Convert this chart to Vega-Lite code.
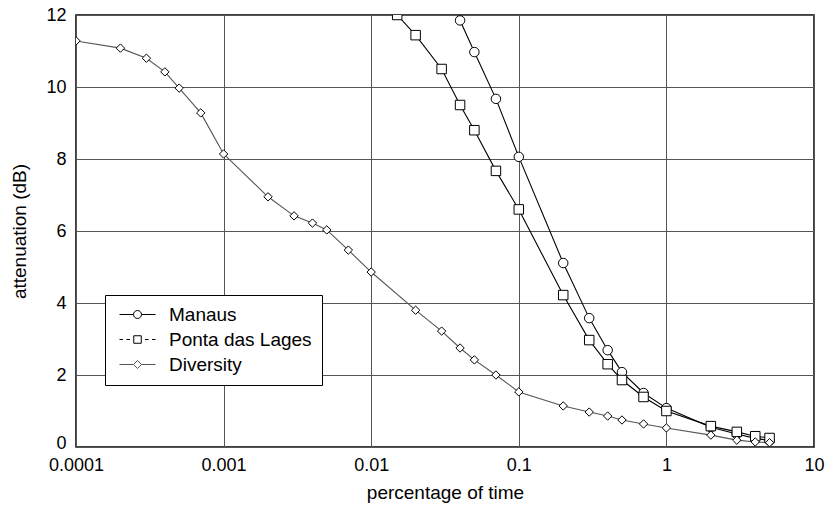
{
  "$schema": "https://vega.github.io/schema/vega-lite/v6.json",
  "width": 738,
  "height": 432,
  "autosize": {"type": "none"},
  "padding": {"left": 76, "top": 15, "right": 12, "bottom": 59},
  "background": "white",
  "config": {
    "view": {"stroke": "black", "strokeWidth": 1.5},
    "font": "Liberation Sans",
    "axis": {
      "domain": false,
      "ticks": false,
      "grid": true,
      "gridColor": "#555",
      "gridWidth": 1,
      "labelFont": "Liberation Sans",
      "labelFontSize": 18,
      "labelColor": "black",
      "labelFlush": false,
      "titleFont": "Liberation Sans",
      "titleFontSize": 19,
      "titleFontWeight": "normal",
      "titleColor": "black"
    }
  },
  "data": {
    "values": [
      {"series": "Manaus", "x": 0.04, "y": 11.85},
      {"series": "Manaus", "x": 0.05, "y": 10.97},
      {"series": "Manaus", "x": 0.07, "y": 9.67},
      {"series": "Manaus", "x": 0.1, "y": 8.06},
      {"series": "Manaus", "x": 0.2, "y": 5.11},
      {"series": "Manaus", "x": 0.3, "y": 3.58},
      {"series": "Manaus", "x": 0.4, "y": 2.69},
      {"series": "Manaus", "x": 0.5, "y": 2.08},
      {"series": "Manaus", "x": 0.7, "y": 1.5},
      {"series": "Manaus", "x": 1, "y": 1.08},
      {"series": "Manaus", "x": 2, "y": 0.55},
      {"series": "Manaus", "x": 3, "y": 0.36},
      {"series": "Manaus", "x": 4, "y": 0.24},
      {"series": "Manaus", "x": 5, "y": 0.18},
      {"series": "Ponta das Lages", "x": 0.015, "y": 12.0},
      {"series": "Ponta das Lages", "x": 0.02, "y": 11.44},
      {"series": "Ponta das Lages", "x": 0.03, "y": 10.5},
      {"series": "Ponta das Lages", "x": 0.04, "y": 9.5},
      {"series": "Ponta das Lages", "x": 0.05, "y": 8.8},
      {"series": "Ponta das Lages", "x": 0.07, "y": 7.67},
      {"series": "Ponta das Lages", "x": 0.1, "y": 6.6},
      {"series": "Ponta das Lages", "x": 0.2, "y": 4.22},
      {"series": "Ponta das Lages", "x": 0.3, "y": 2.97},
      {"series": "Ponta das Lages", "x": 0.4, "y": 2.3},
      {"series": "Ponta das Lages", "x": 0.5, "y": 1.86},
      {"series": "Ponta das Lages", "x": 0.7, "y": 1.39},
      {"series": "Ponta das Lages", "x": 1, "y": 1.0},
      {"series": "Ponta das Lages", "x": 2, "y": 0.58},
      {"series": "Ponta das Lages", "x": 3, "y": 0.42},
      {"series": "Ponta das Lages", "x": 4, "y": 0.3},
      {"series": "Ponta das Lages", "x": 5, "y": 0.25},
      {"series": "Diversity", "x": 0.0001, "y": 11.28},
      {"series": "Diversity", "x": 0.0002, "y": 11.08},
      {"series": "Diversity", "x": 0.0003, "y": 10.8},
      {"series": "Diversity", "x": 0.0004, "y": 10.42},
      {"series": "Diversity", "x": 0.0005, "y": 9.97},
      {"series": "Diversity", "x": 0.0007, "y": 9.28},
      {"series": "Diversity", "x": 0.001, "y": 8.14},
      {"series": "Diversity", "x": 0.002, "y": 6.95},
      {"series": "Diversity", "x": 0.003, "y": 6.42},
      {"series": "Diversity", "x": 0.004, "y": 6.22},
      {"series": "Diversity", "x": 0.005, "y": 6.03},
      {"series": "Diversity", "x": 0.007, "y": 5.47},
      {"series": "Diversity", "x": 0.01, "y": 4.86},
      {"series": "Diversity", "x": 0.02, "y": 3.8},
      {"series": "Diversity", "x": 0.03, "y": 3.22},
      {"series": "Diversity", "x": 0.04, "y": 2.75},
      {"series": "Diversity", "x": 0.05, "y": 2.42},
      {"series": "Diversity", "x": 0.07, "y": 2.0},
      {"series": "Diversity", "x": 0.1, "y": 1.53},
      {"series": "Diversity", "x": 0.2, "y": 1.14},
      {"series": "Diversity", "x": 0.3, "y": 0.97},
      {"series": "Diversity", "x": 0.4, "y": 0.86},
      {"series": "Diversity", "x": 0.5, "y": 0.75},
      {"series": "Diversity", "x": 0.7, "y": 0.64},
      {"series": "Diversity", "x": 1, "y": 0.53},
      {"series": "Diversity", "x": 2, "y": 0.33},
      {"series": "Diversity", "x": 3, "y": 0.19},
      {"series": "Diversity", "x": 4, "y": 0.14},
      {"series": "Diversity", "x": 5, "y": 0.12}
    ]
  },
  "encoding": {
    "x": {
      "field": "x", "type": "quantitative",
      "scale": {"type": "log", "domain": [0.0001, 10], "nice": false},
      "axis": {"values": [0.0001, 0.001, 0.01, 0.1, 1, 10], "format": "~g", "title": "percentage of time", "labelPadding": 9, "titlePadding": 9}
    },
    "y": {
      "field": "y", "type": "quantitative",
      "scale": {"domain": [0, 12], "nice": false},
      "axis": {
        "values": [0, 2, 4, 6, 8, 10, 12],
        "title": "attenuation (dB)",
        "labelPadding": 10,
        "titlePadding": 16,
        "labelOffset": {"condition": {"test": "datum.value === 0", "value": -4}, "value": 0}
      }
    }
  },
  "layer": [
    {
      "mark": {"type": "line", "clip": true, "strokeWidth": 1.1},
      "encoding": {
        "color": {
          "field": "series", "type": "nominal",
          "scale": {"domain": ["Manaus", "Ponta das Lages", "Diversity"], "range": ["black", "black", "#555"]},
          "legend": {
            "title": null,
            "orient": "none",
            "legendX": 29,
            "legendY": 280,
            "fillColor": "white",
            "strokeColor": "black",
            "padding": 10,
            "rowPadding": 5,
            "symbolSize": 100,
            "symbolStrokeWidth": 1,
            "symbolOffset": 13,
            "labelOffset": 22,
            "labelFont": "Liberation Sans",
            "labelFontSize": 19,
            "labelColor": "black",
            "encode": {
              "symbols": {
                "update": {
                  "shape": {"signal": "datum.value === 'Manaus' ? 'M-3.6,0L-0.8,0M0.8,0L3.6,0M0.8,0A0.8,0.8,0,1,1,-0.8,0A0.8,0.8,0,1,1,0.8,0Z' : datum.value === 'Ponta das Lages' ? 'M-3.6,0L-2.9,0M-2.2,0L-1.5,0M-0.75,-0.75L0.75,-0.75L0.75,0.75L-0.75,0.75ZM1.5,0L2.2,0M2.9,0L3.6,0' : 'M-3.6,0L-0.8,0M0.8,0L3.6,0M0,-0.8L0.8,0L0,0.8L-0.8,0Z'"},
                  "fill": {"value": "white"},
                  "stroke": {"value": "black"},
                  "strokeWidth": {"value": 1}
                }
              }
            }
          }
        }
      }
    },
    {
      "transform": [{"filter": "datum.series === 'Manaus'"}],
      "mark": {"type": "point", "shape": "circle", "clip": true, "filled": true, "fill": "white", "stroke": "black", "strokeWidth": 1, "size": 90, "opacity": 1}
    },
    {
      "transform": [{"filter": "datum.series === 'Ponta das Lages'"}],
      "mark": {"type": "point", "shape": "square", "clip": true, "filled": true, "fill": "white", "stroke": "black", "strokeWidth": 1, "size": 90, "opacity": 1}
    },
    {
      "transform": [{"filter": "datum.series === 'Diversity'"}],
      "mark": {"type": "point", "shape": "diamond", "clip": true, "filled": true, "fill": "white", "stroke": "black", "strokeWidth": 1, "size": 70, "opacity": 1}
    }
  ]
}
